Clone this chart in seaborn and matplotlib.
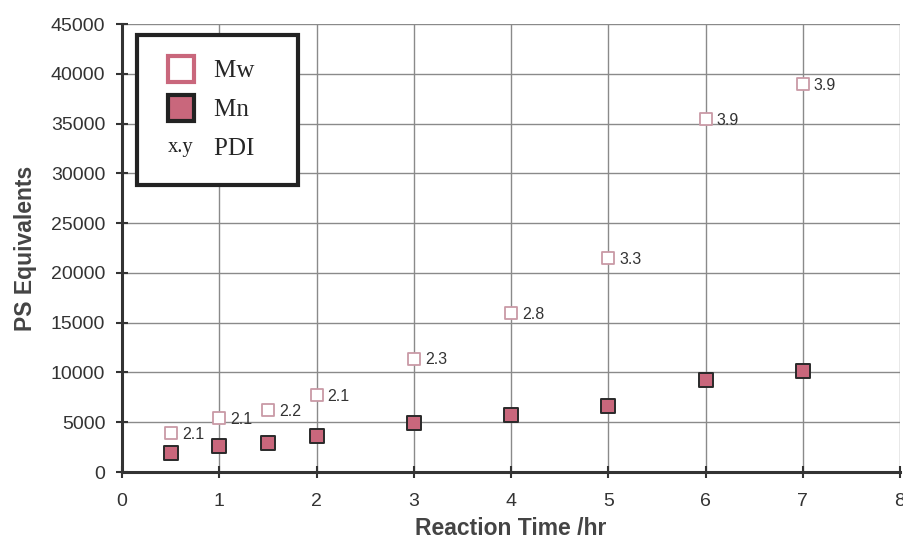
import matplotlib
matplotlib.use("Agg")
import matplotlib.pyplot as plt
import matplotlib.text as mtext
from matplotlib.lines import Line2D
import seaborn as sns
import pandas as pd

# ---- data ----
time_hr = [0.5, 1, 1.5, 2, 3, 4, 5, 6, 7]
mw = [3900, 5400, 6200, 7700, 11400, 16000, 21500, 35500, 39000]
mn = [1900, 2600, 2900, 3600, 4900, 5700, 6600, 9200, 10100]
pdi = ["2.1", "2.1", "2.2", "2.1", "2.3", "2.8", "3.3", "3.9", "3.9"]
x_ticks = [0, 1, 2, 3, 4, 5, 6, 7, 8]
y_ticks = [0, 5000, 10000, 15000, 20000, 25000, 30000, 35000, 40000, 45000]

df = pd.DataFrame({"t": time_hr, "Mw": mw, "Mn": mn, "PDI": pdi})

sns.set_theme(style="white")
plt.rcParams['font.family'] = ['Liberation Sans', 'DejaVu Sans']

fig = plt.figure(figsize=(9.04, 5.41), dpi=100)
ax = fig.add_axes([0.135, 0.1275, 0.8606, 0.828])

pink = "#c9677c"
pink_edge = "#c99aa6"

sns.scatterplot(data=df, x="t", y="Mw", ax=ax, marker="s", s=85,
                facecolor="white", edgecolor=pink_edge, linewidth=1.3, zorder=4)
sns.scatterplot(data=df, x="t", y="Mn", ax=ax, marker="s", s=95,
                color=pink, edgecolor="#2a2a2a", linewidth=1.4, zorder=4)

for xv, yv, lab in zip(df["t"], df["Mw"], df["PDI"]):
    ax.annotate(lab, (xv, yv), xytext=(8, -1), textcoords="offset points",
                ha="left", va="center", fontsize=11.5, color="#333333", zorder=5)

ax.set_xlim(0, 8)
ax.set_ylim(0, 45000)
ax.set_xticks(x_ticks)
ax.set_yticks(y_ticks)
ax.set_xticklabels([str(v) for v in x_ticks], fontsize=14, color="#333333")
ax.set_yticklabels([str(v) for v in y_ticks], fontsize=14, color="#333333")
ax.tick_params(axis="both", direction="inout", length=8, width=1.5, color="#333333",
               left=True, bottom=True)
ax.tick_params(axis="x", pad=11)
ax.tick_params(axis="y", pad=8)

ax.grid(True, color="#8a8a8a", linewidth=1.0)
ax.set_axisbelow(True)
for s in ["top", "right"]:
    ax.spines[s].set_visible(False)
for s in ["left", "bottom"]:
    ax.spines[s].set_color("#333333")
    ax.spines[s].set_linewidth(2.2)

ax.set_xlabel("Reaction Time /hr", fontsize=16.5, fontweight="bold", color="#444444", labelpad=5)
ax.set_ylabel("PS Equivalents", fontsize=16.5, fontweight="bold", color="#444444", labelpad=10)


class TextHandle:
    def __init__(self, text):
        self.text = text


class TextHandler:
    def legend_artist(self, legend, orig_handle, fontsize, handlebox):
        x0, y0 = handlebox.xdescent, handlebox.ydescent
        t = mtext.Text(x0 + handlebox.width / 2, y0 + handlebox.height / 2 - 1,
                       orig_handle.text, ha="center", va="center",
                       fontsize=fontsize * 0.82, family="Liberation Serif", color="#222222")
        handlebox.add_artist(t)
        return t


h_mw = Line2D([], [], marker="s", linestyle="none", markersize=19,
              markerfacecolor="white", markeredgecolor=pink, markeredgewidth=3)
h_mn = Line2D([], [], marker="s", linestyle="none", markersize=19,
              markerfacecolor=pink, markeredgecolor="#222222", markeredgewidth=3)
h_pdi = TextHandle("x.y")

leg = ax.legend([h_mw, h_mn, h_pdi], ["Mw   ", "Mn   ", "PDI  "],
                handler_map={TextHandle: TextHandler()},
                loc="upper left", bbox_to_anchor=(0.019, 0.976),
                prop={"family": "Liberation Serif", "size": 18},
                frameon=True, fancybox=False, borderpad=1.0, labelspacing=0.66,
                handlelength=1.5, handletextpad=0.6, borderaxespad=0)
leg.get_frame().set_edgecolor("#222222")
leg.get_frame().set_linewidth(3)
leg.get_frame().set_facecolor("white")
leg.get_frame().set_alpha(1)
leg.set_zorder(10)

fig.savefig("out.png", dpi=100)
